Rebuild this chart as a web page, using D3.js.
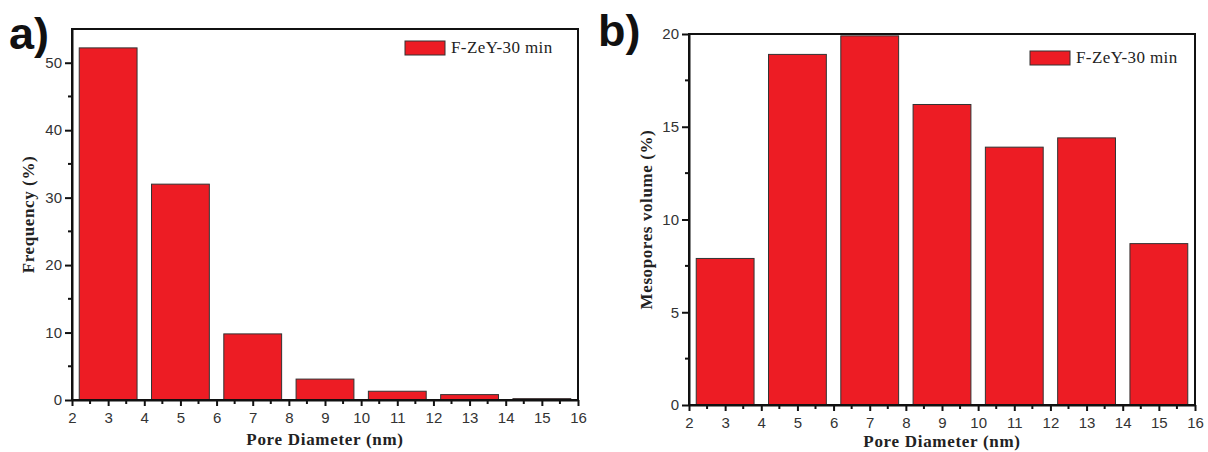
<!DOCTYPE html>
<html><head><meta charset="utf-8">
<script src="https://cdn.jsdelivr.net/npm/d3@7"></script>
<style>body{margin:0;background:#fff}svg{display:block}</style>
</head><body>
<svg id="c" width="1208" height="452"></svg>
<script>
const categories = [3, 5, 7, 9, 11, 13, 15];
const freqValues = [52.2, 32.0, 9.8, 3.1, 1.3, 0.8, 0.2];
const volValues = [7.9, 18.9, 19.9, 16.2, 13.9, 14.4, 8.7];
const xTicks = [2,3,4,5,6,7,8,9,10,11,12,13,14,15,16];
const freqTicks = [0,10,20,30,40,50];
const volTicks = [0,5,10,15,20];
const seriesName = "F-ZeY-30 min";

const svg = d3.select("#c");
const RED = "#ed1c24";

function panel(opt){
  const g = svg.append("g");
  const x = d3.scaleLinear().domain([2,16]).range([opt.left, opt.right]);
  const y = d3.scaleLinear().domain([0, opt.ymax]).range([opt.bottom, opt.top]);
  g.selectAll("rect.bar").data(opt.values).enter().append("rect")
    .attr("x",(d,i)=>x(categories[i]-0.8)).attr("width",(d,i)=>x(categories[i]+0.8)-x(categories[i]-0.8))
    .attr("y",d=>y(d)).attr("height",d=>y(0)-y(d))
    .attr("fill",RED).attr("stroke","#333").attr("stroke-width",1);
  g.append("rect").attr("x",opt.left).attr("y",opt.top).attr("width",opt.right-opt.left).attr("height",opt.bottom-opt.top)
    .attr("fill","none").attr("stroke","#111").attr("stroke-width",2);
  const xa = g.append("g").attr("transform",`translate(0,${opt.bottom})`)
    .call(d3.axisBottom(x).tickValues(xTicks).tickFormat(d3.format("d")).tickSize(6).tickSizeOuter(0));
  xa.select(".domain").attr("stroke-width",2).attr("stroke","#111");
  xa.selectAll(".tick line").attr("stroke-width",2).attr("stroke","#111");
  xa.selectAll("text").attr("font-family","Arial, Liberation Sans, sans-serif").attr("font-size",15).attr("fill","#333").attr("dy","0.95em");
  const minorX = d3.range(2.5,16,1);
  xa.selectAll("line.minor").data(minorX).enter().append("line").attr("class","minor")
    .attr("x1",d=>x(d)).attr("x2",d=>x(d)).attr("y1",0).attr("y2",4).attr("stroke","#111").attr("stroke-width",2);
  const ya = g.append("g").attr("transform",`translate(${opt.left},0)`)
    .call(d3.axisLeft(y).tickValues(opt.ticks).tickSize(7).tickSizeOuter(0));
  ya.select(".domain").attr("stroke-width",2).attr("stroke","#111");
  ya.selectAll(".tick line").attr("stroke-width",2).attr("stroke","#111");
  ya.selectAll("text").attr("font-family","Arial, Liberation Sans, sans-serif").attr("font-size",15).attr("fill","#333");
  const step = opt.ticks[1]-opt.ticks[0];
  const minorY = d3.range(step/2, opt.ymax, step);
  ya.selectAll("line.minor").data(minorY).enter().append("line").attr("class","minor")
    .attr("x1",0).attr("x2",-4).attr("y1",d=>y(d)).attr("y2",d=>y(d)).attr("stroke","#111").attr("stroke-width",2);
  g.append("text").attr("x",(opt.left+opt.right)/2).attr("y",opt.xtitleY).attr("text-anchor","middle")
    .attr("font-family","Liberation Serif, Times New Roman, serif").attr("font-weight","bold").attr("font-size",17)
    .attr("letter-spacing","0.7px").attr("fill","#222")
    .text("Pore Diameter (nm)");
  g.append("text").attr("transform",`translate(${opt.ytitleX},${(opt.top+opt.bottom)/2}) rotate(-90)`).attr("text-anchor","middle")
    .attr("font-family","Liberation Serif, Times New Roman, serif").attr("font-weight","bold").attr("font-size",17)
    .attr("letter-spacing","0.6px").attr("fill","#222")
    .text(opt.ytitle);
  g.append("rect").attr("x",opt.legX).attr("y",opt.legY).attr("width",40).attr("height",14)
    .attr("fill",RED).attr("stroke","#333").attr("stroke-width",1);
  g.append("text").attr("x",opt.legX+46).attr("y",opt.legY+12)
    .attr("font-family","Liberation Serif, Times New Roman, serif").attr("font-size",17).attr("letter-spacing","0.4px")
    .attr("fill","#222").text(seriesName);
  g.append("text").attr("x",opt.labX).attr("y",opt.labY)
    .attr("font-family","Liberation Sans, Arial, sans-serif").attr("font-weight","bold").attr("font-size",45).attr("fill","#111").text(opt.label);
}

panel({left:72,right:578,top:29,bottom:400,ymax:55,values:freqValues,ticks:freqTicks,
  ytitle:"Frequency (%)",ytitleX:34,xtitleY:445,legX:405,legY:41,labX:9,labY:49,label:"a)"});
panel({left:689,right:1195,top:34,bottom:405,ymax:20,values:volValues,ticks:volTicks,
  ytitle:"Mesopores volume (%)",ytitleX:652,xtitleY:447,legX:1030,legY:51,labX:598,labY:46,label:"b)"});
</script>
</body></html>
